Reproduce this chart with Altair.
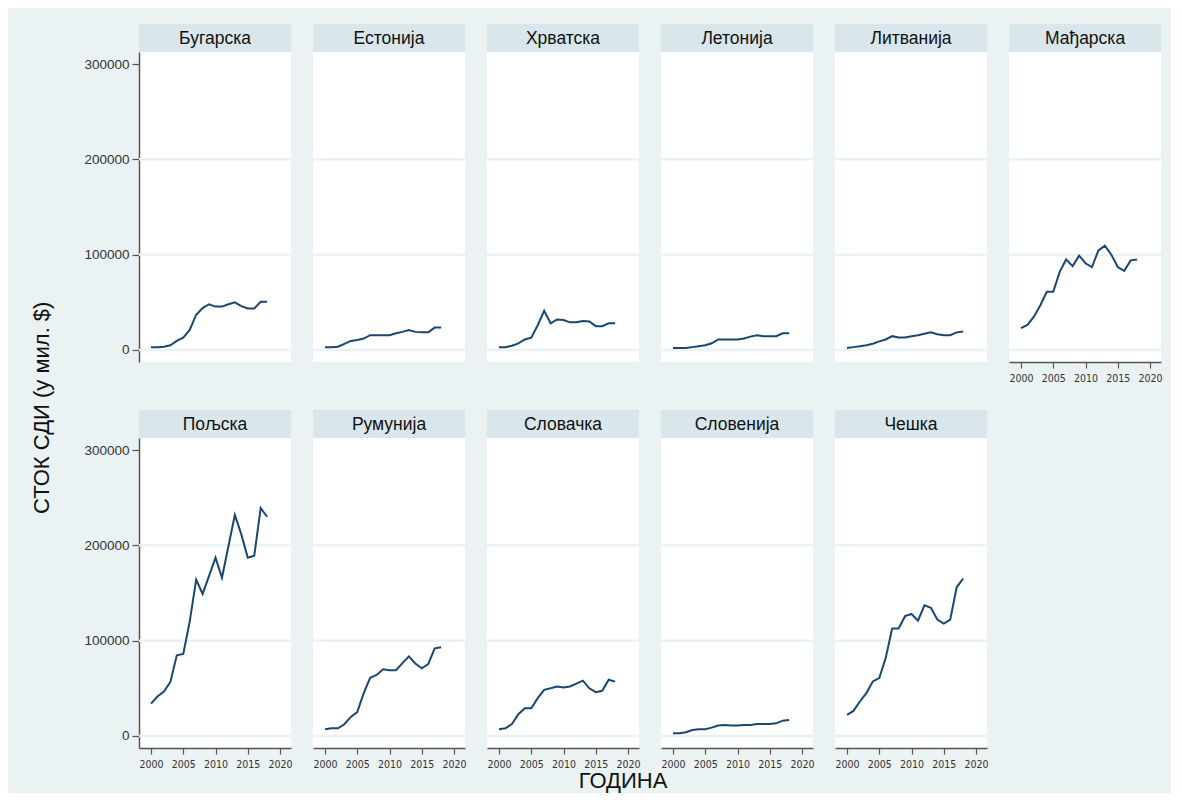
import altair as alt
import pandas as pd

# ---------------- data ----------------
years = list(range(2000, 2019))

countries = ["Бугарска", "Естонија", "Хрватска", "Летонија", "Литванија", "Мађарска",
             "Пољска", "Румунија", "Словачка", "Словенија", "Чешка"]

bugarska = [3000, 3000, 3500, 5000, 9500, 13000, 21000, 37000, 44000, 48000,
            45500, 45500, 48000, 50000, 46000, 43500, 43500, 50500, 50500]
estonija = [3000, 3000, 3500, 6500, 9500, 10500, 12000, 15500, 15500, 15500,
            15500, 17500, 19000, 21000, 19000, 18500, 18500, 23500, 23500]
hrvatska = [3000, 3000, 4500, 7000, 11000, 13000, 26000, 41000, 28000, 32000,
            31500, 29000, 29000, 30500, 30000, 25000, 25000, 28000, 28000]
letonija = [2000, 2000, 2000, 3000, 4000, 5000, 7000, 11000, 11000, 11000,
            11000, 12000, 14000, 15500, 14500, 14500, 14500, 17500, 17500]
litvanija = [2000, 3000, 4000, 5000, 6500, 9000, 11000, 14500, 13000, 13000,
             14500, 15500, 17000, 18500, 16500, 15500, 15500, 18500, 19500]
madjarska = [23000, 26300, 35000, 47000, 61000, 61000, 82000, 95000, 88000, 99000,
             91000, 87000, 104500, 109500, 100000, 87000, 83000, 94000, 95000]
poljska = [34000, 41400, 46700, 56500, 84600, 86000, 120000, 164000, 149000, 168000,
           187000, 166000, 199000, 232000, 211500, 187000, 189000, 239000, 230000]
rumunija = [7000, 8000, 8000, 12300, 20000, 25000, 45000, 61000, 64000, 70000,
            69000, 69000, 76500, 83500, 76000, 71000, 75500, 92000, 93000]
slovacka = [7000, 8000, 12600, 22800, 29000, 29000, 39700, 48400, 50000, 52000,
            51000, 52000, 55000, 58000, 50000, 46000, 47400, 59000, 57000]
slovenija = [2800, 2800, 3900, 6300, 7000, 7000, 8800, 10900, 11600, 10900,
             10900, 11600, 11600, 12600, 12600, 12600, 13300, 16100, 16800]
ceska = [22100, 26300, 36200, 45000, 57200, 60700, 81800, 112700, 112700, 125700,
         128000, 121000, 137000, 134400, 122100, 118000, 122100, 156000, 165000]

series = [bugarska, estonija, hrvatska, letonija, litvanija, madjarska,
          poljska, rumunija, slovacka, slovenija, ceska]

y_ticks = [0, 100000, 200000, 300000]
grid_values = [0, 100000, 200000]
x_ticks = [2000, 2005, 2010, 2015, 2020]

y_title = "СТОК СДИ (у мил. $)"
x_title = "ГОДИНА"

# ---------------- style ----------------
BG = "#eaf2f3"
STRIP = "#d9e6eb"
LINE = "#1a476f"
AXIS = "#555555"
FONT = "Liberation Sans, Arial, sans-serif"
NARROW = "Liberation Sans Narrow, DejaVu Sans Condensed, Liberation Sans, sans-serif"

W = 152
PLOT_H = 310
STRIP_H = 28

xscale = alt.Scale(domain=[1998.14, 2021.7], nice=False, zero=False)
yscale = alt.Scale(domain=[-12600, 312600], nice=False, zero=False)


def y_axis():
    return alt.Axis(values=y_ticks, format="d", title=None, grid=False,
                    domainColor=AXIS, domainWidth=1.5, tickColor=AXIS, tickWidth=1.2,
                    tickSize=7, labelFontSize=13.5, labelColor="#333333",
                    labelFont=FONT, labelPadding=3)


def x_axis():
    return alt.Axis(values=x_ticks, format="d", title=None, grid=False,
                    domainColor=AXIS, domainWidth=1.5, tickColor=AXIS, tickWidth=1.2,
                    tickSize=6, labelFontSize=10.5, labelColor="#333333",
                    labelFont=NARROW, labelPadding=5, labelFlush=False)


def panel(name, values, show_y, show_x):
    df = pd.DataFrame({"year": years, "value": values})
    strip = alt.Chart(pd.DataFrame({"label": [name]})).mark_text(
        font=FONT, fontSize=17.5, color="#111111", align="center", baseline="middle"
    ).encode(
        text="label:N", x=alt.value(W / 2), y=alt.value(STRIP_H / 2 + 1)
    ).properties(width=W, height=STRIP_H,
                 view=alt.ViewBackground(fill=STRIP, stroke=None))

    yax = y_axis() if show_y else None
    xax = x_axis() if show_x else None

    grid = alt.Chart(pd.DataFrame({"g": grid_values})).mark_rule(
        color=BG, strokeWidth=2.5
    ).encode(y=alt.Y("g:Q", scale=yscale, axis=yax))

    line = alt.Chart(df).mark_line(color=LINE, strokeWidth=2).encode(
        x=alt.X("year:Q", scale=xscale, axis=xax),
        y=alt.Y("value:Q", scale=yscale, axis=yax),
    )
    plot = alt.layer(grid, line).properties(
        width=W, height=PLOT_H, view=alt.ViewBackground(fill="white", stroke=None)
    )
    return alt.vconcat(strip, plot, spacing=0)


row1 = alt.hconcat(*[
    panel(countries[i], series[i], show_y=(i == 0), show_x=(i == 5)) for i in range(6)
], spacing=18)
row2 = alt.hconcat(*[
    panel(countries[i], series[i], show_y=(i == 6), show_x=True) for i in range(6, 11)
], spacing=18)

grid_chart = alt.vconcat(row1, row2, spacing=26).properties(
    title=alt.TitleParams(x_title, orient="bottom", anchor="middle", fontSize=22,
                          font=FONT, fontWeight="normal", color="#111111", offset=1)
)

chart = alt.hconcat(grid_chart).properties(
    title=alt.TitleParams(y_title, orient="left", anchor="middle", fontSize=22,
                          font=FONT, fontWeight="normal", color="#111111", offset=30),
    background=BG,
    padding={"left": 22, "top": 16, "right": 8, "bottom": 1},
).configure_view(stroke=None).configure_concat(spacing=0)

chart.save("out.html", embed_options={"renderer": "svg", "actions": False})
